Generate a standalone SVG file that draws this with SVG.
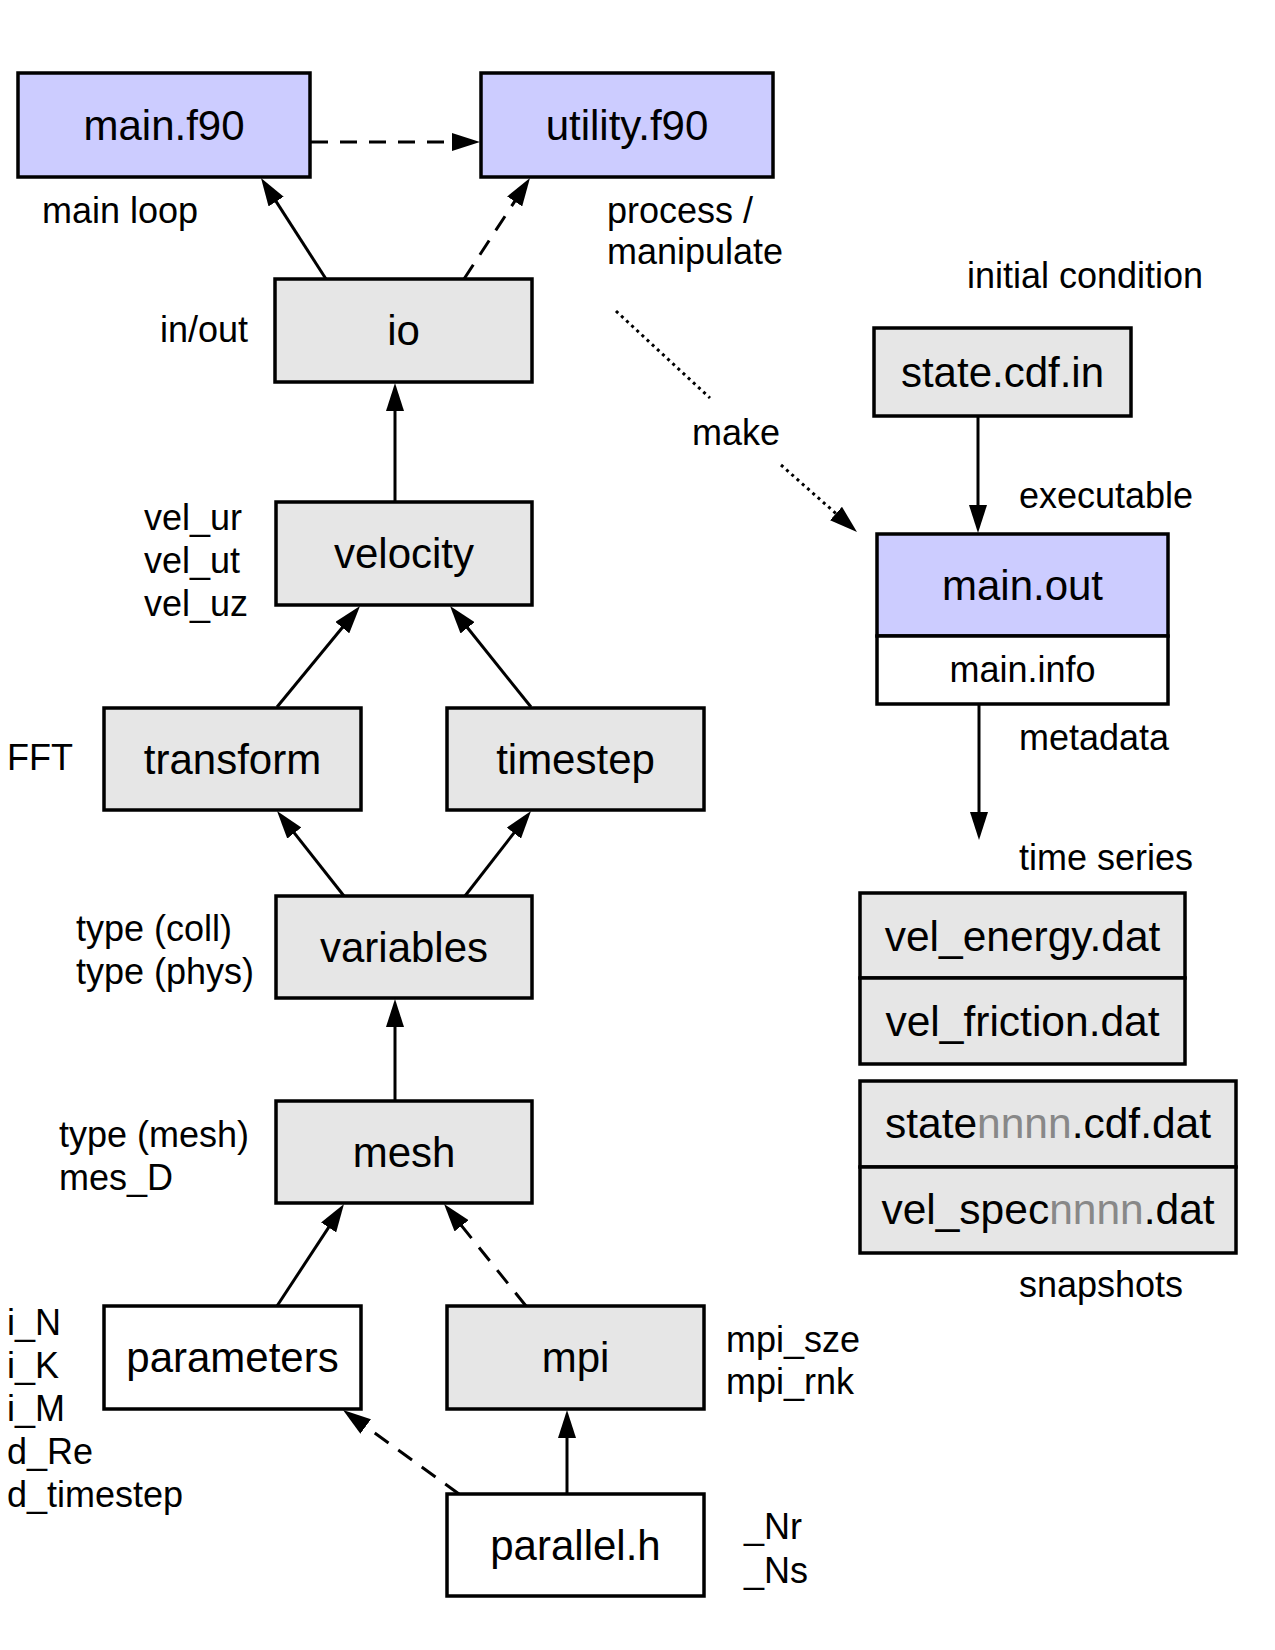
<svg xmlns="http://www.w3.org/2000/svg" width="1275" height="1650" viewBox="0 0 1275 1650">
<style>
text{font-family:"Liberation Sans",Arial,sans-serif;fill:#000}
.lbl{font-size:42px;text-anchor:middle}
.file{font-size:42.5px;text-anchor:middle}
.sm{font-size:36px;text-anchor:middle}
.note{font-size:36px}
.end{text-anchor:end}
.box{stroke:#000;stroke-width:3.5}
.blue{fill:#ccccff}
.gray{fill:#e6e6e6}
.white{fill:#fff}
.c{stroke:#000;stroke-width:3;fill:none}
.dash{stroke-dasharray:17,12}
.dot{stroke-dasharray:3,4}
.n{fill:#888}
</style>
<defs>
<marker id="ah" markerUnits="userSpaceOnUse" markerWidth="28" markerHeight="18" refX="18" refY="9" orient="auto" viewBox="0 0 28 18">
<path d="M0,0 L28,9 L0,18 z" fill="#000"/>
</marker>
</defs>
<rect width="1275" height="1650" fill="#fff"/>

<g id="connectors">
<line class="c dash" x1="311" y1="142" x2="470" y2="142" marker-end="url(#ah)"/>
<line class="c" x1="326" y1="279" x2="266.4" y2="186.4" marker-end="url(#ah)"/>
<line class="c dash" x1="464" y1="279" x2="524.5" y2="186.4" marker-end="url(#ah)"/>
<line class="c" x1="395" y1="502" x2="395" y2="393" marker-end="url(#ah)"/>
<line class="c" x1="277" y1="707" x2="353.7" y2="613.7" marker-end="url(#ah)"/>
<line class="c" x1="531" y1="707" x2="456.3" y2="613.8" marker-end="url(#ah)"/>
<line class="c" x1="344" y1="896" x2="283.2" y2="818.9" marker-end="url(#ah)"/>
<line class="c" x1="465" y1="896" x2="524.9" y2="818.9" marker-end="url(#ah)"/>
<line class="c" x1="395" y1="1101" x2="395" y2="1009" marker-end="url(#ah)"/>
<line class="c" x1="277" y1="1306" x2="338.5" y2="1212.4" marker-end="url(#ah)"/>
<line class="c dash" x1="526" y1="1306" x2="450.3" y2="1211.8" marker-end="url(#ah)"/>
<line class="c dash" x1="459" y1="1494" x2="351.1" y2="1415.9" marker-end="url(#ah)"/>
<line class="c" x1="567" y1="1494" x2="567" y2="1420" marker-end="url(#ah)"/>
<line class="c" x1="978" y1="416" x2="978" y2="523" marker-end="url(#ah)"/>
<line class="c dot" x1="616" y1="311" x2="710" y2="398"/>
<line class="c dot" x1="781" y1="465" x2="849.5" y2="525.4" marker-end="url(#ah)"/>
<line class="c" x1="979" y1="704" x2="979" y2="830" marker-end="url(#ah)"/>
<text class="note" x="692" y="445">make</text>
</g>

<g id="main_f90">
<rect class="box blue" x="18" y="73" width="292" height="104"/>
<text class="lbl" x="164" y="140">main.f90</text>
</g>
<g id="utility_f90">
<rect class="box blue" x="481" y="73" width="292" height="104"/>
<text class="lbl" x="627" y="140">utility.f90</text>
</g>
<g id="io">
<rect class="box gray" x="275" y="279" width="257" height="103"/>
<text class="lbl" x="403.5" y="345">io</text>
</g>
<g id="velocity">
<rect class="box gray" x="276" y="502" width="256" height="103"/>
<text class="lbl" x="404" y="568">velocity</text>
</g>
<g id="transform">
<rect class="box gray" x="104" y="708" width="257" height="102"/>
<text class="lbl" x="232.5" y="774">transform</text>
</g>
<g id="timestep">
<rect class="box gray" x="447" y="708" width="257" height="102"/>
<text class="lbl" x="575.5" y="774">timestep</text>
</g>
<g id="variables">
<rect class="box gray" x="276" y="896" width="256" height="102"/>
<text class="lbl" x="404" y="962">variables</text>
</g>
<g id="mesh">
<rect class="box gray" x="276" y="1101" width="256" height="102"/>
<text class="lbl" x="404" y="1167">mesh</text>
</g>
<g id="parameters">
<rect class="box white" x="104" y="1306" width="257" height="103"/>
<text class="lbl" x="232.5" y="1372">parameters</text>
</g>
<g id="mpi">
<rect class="box gray" x="447" y="1306" width="257" height="103"/>
<text class="lbl" x="575.5" y="1372">mpi</text>
</g>
<g id="parallel_h">
<rect class="box white" x="447" y="1494" width="257" height="102"/>
<text class="lbl" x="575.5" y="1560">parallel.h</text>
</g>
<g id="state_cdf_in">
<rect class="box gray" x="874" y="328" width="257" height="88"/>
<text class="lbl" x="1002.5" y="387">state.cdf.in</text>
</g>
<g id="main_out">
<rect class="box blue" x="877" y="534" width="291" height="102"/>
<rect class="box white" x="877" y="636" width="291" height="68"/>
<text class="lbl" x="1022.5" y="600">main.out</text>
<text class="sm" x="1022.5" y="682">main.info</text>
</g>
<g id="time_series">
<rect class="box gray" x="860" y="893" width="325" height="85"/>
<rect class="box gray" x="860" y="978" width="325" height="86"/>
<text class="file" x="1022.5" y="951">vel_energy.dat</text>
<text class="file" x="1022.5" y="1036">vel_friction.dat</text>
</g>
<g id="snapshots">
<rect class="box gray" x="860" y="1081" width="376" height="86"/>
<rect class="box gray" x="860" y="1167" width="376" height="86"/>
<text class="file" x="1048" y="1138">state<tspan class="n">nnnn</tspan>.cdf.dat</text>
<text class="file" x="1048" y="1224">vel_spec<tspan class="n">nnnn</tspan>.dat</text>
</g>

<g id="labels">
<text class="note" x="42" y="223">main loop</text>
<text class="note" x="607" y="223">process /</text>
<text class="note" x="607" y="264">manipulate</text>
<text class="note end" x="248" y="342">in/out</text>
<text class="note" x="967" y="288">initial condition</text>
<text class="note" x="1019" y="508">executable</text>
<text class="note" x="1019" y="750">metadata</text>
<text class="note" x="1019" y="870">time series</text>
<text class="note" x="1019" y="1297">snapshots</text>
<text class="note" x="144" y="530">vel_ur</text>
<text class="note" x="144" y="573">vel_ut</text>
<text class="note" x="144" y="616">vel_uz</text>
<text class="note" x="7" y="770">FFT</text>
<text class="note" x="76" y="941">type (coll)</text>
<text class="note" x="76" y="984">type (phys)</text>
<text class="note" x="59" y="1147">type (mesh)</text>
<text class="note" x="59" y="1190">mes_D</text>
<text class="note" x="7" y="1335">i_N</text>
<text class="note" x="7" y="1378">i_K</text>
<text class="note" x="7" y="1421">i_M</text>
<text class="note" x="7" y="1464">d_Re</text>
<text class="note" x="7" y="1507">d_timestep</text>
<text class="note" x="726" y="1352">mpi_sze</text>
<text class="note" x="726" y="1394">mpi_rnk</text>
<text class="note" x="744" y="1539">_Nr</text>
<text class="note" x="744" y="1583">_Ns</text>
</g>
</svg>
